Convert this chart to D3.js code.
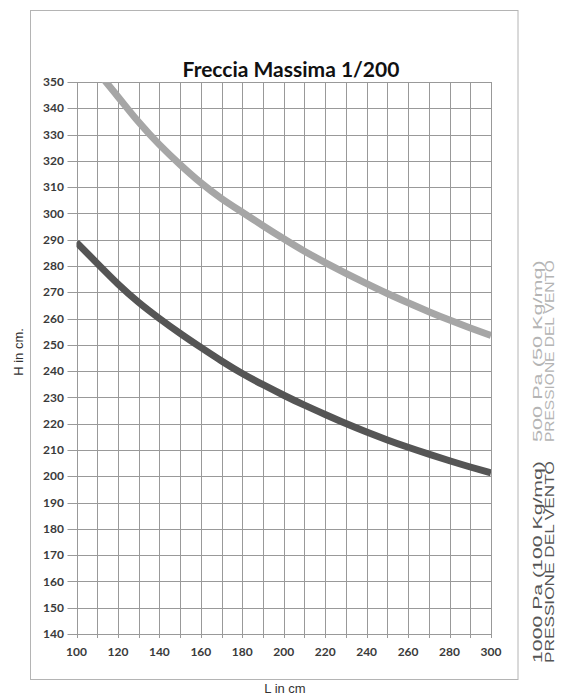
<!DOCTYPE html>
<html>
<head>
<meta charset="utf-8">
<script src="https://cdn.jsdelivr.net/npm/d3@7"></script>
<style>
  body { margin: 0; background: #fff; }
  svg { display: block; }
</style>
</head>
<body>
<div id="chart"></div>
<script>
// Freccia massima 1/200 - height vs length for two wind pressures

// Lengths (L in cm) along the x axis
const lengths = [100, 110, 120, 130, 140, 150, 160, 170, 180, 190, 200,
                 210, 220, 230, 240, 250, 260, 270, 280, 290, 300];

// 1000 Pa (100 Kg/mq) - dark curve
const h1000 = [289, 281, 273, 266, 260, 254.3, 249, 243.8, 239, 234.8, 230.8,
               227, 223.5, 220, 216.8, 213.8, 211, 208.4, 205.9, 203.5, 201.3];

// 500 Pa (50 Kg/mq) - light curve, goes off the top at the start
const h500 = [null, 354, 344.5, 334.5, 326, 318.5, 311.5, 305.5, 300.5, 295.3, 290.3,
              285.5, 281.3, 277.2, 273.3, 269.5, 266, 262.6, 259.4, 256.4, 253.6];

const xTicks = [100, 120, 140, 160, 180, 200, 220, 240, 260, 280, 300];
const yTicks = [140, 150, 160, 170, 180, 190, 200, 210, 220, 230, 240, 250,
                260, 270, 280, 290, 300, 310, 320, 330, 340, 350];

const width = 565;
const height = 695;
const plot = { left: 76.5, right: 491, top: 82, bottom: 634 };

const svg = d3.select('#chart').append('svg')
  .attr('width', width)
  .attr('height', height);

// outer frame
svg.append('rect')
  .attr('x', 30.5).attr('y', 10.5)
  .attr('width', 487.5).attr('height', 669)
  .attr('fill', 'none')
  .attr('stroke', '#b4b4b4');

const x = d3.scaleLinear().domain([100, 300]).range([plot.left, plot.right]);
const y = d3.scaleLinear().domain([140, 350]).range([plot.bottom, plot.top]);

// grid lines
const grid = svg.append('g').attr('stroke', '#999').attr('stroke-width', 1);
grid.selectAll('.vline')
  .data(lengths)
  .enter().append('line')
  .attr('x1', d => Math.round(x(d)) + 0.5)
  .attr('x2', d => Math.round(x(d)) + 0.5)
  .attr('y1', plot.top)
  .attr('y2', plot.bottom + 4);
grid.selectAll('.hline')
  .data(yTicks)
  .enter().append('line')
  .attr('x1', plot.left - 9)
  .attr('x2', plot.right)
  .attr('y1', d => Math.round(y(d)) + 0.5)
  .attr('y2', d => Math.round(y(d)) + 0.5);

// tick labels
const tickFont = 'Lato, "Open Sans", sans-serif';
svg.append('g').selectAll('text')
  .data(yTicks)
  .enter().append('text')
  .attr('x', 64)
  .attr('y', d => y(d))
  .attr('dy', '0.35em')
  .attr('text-anchor', 'end')
  .attr('font-family', tickFont)
  .attr('font-weight', 'bold')
  .attr('font-size', '12px')
  .attr('fill', '#3a3a3a')
  .text(d => d);

svg.append('g').selectAll('text')
  .data(xTicks)
  .enter().append('text')
  .attr('x', d => x(d))
  .attr('y', 656)
  .attr('text-anchor', 'middle')
  .attr('font-family', tickFont)
  .attr('font-weight', 'bold')
  .attr('font-size', '12px')
  .attr('fill', '#3a3a3a')
  .text(d => d);

// curves
svg.append('clipPath').attr('id', 'clip')
  .append('rect')
  .attr('x', plot.left).attr('y', plot.top)
  .attr('width', plot.right - plot.left)
  .attr('height', plot.bottom - plot.top);

const line = d3.line()
  .defined(d => d[1] != null)
  .x(d => x(d[0]))
  .y(d => y(d[1]))
  .curve(d3.curveBasis);

const curves = svg.append('g').attr('clip-path', 'url(#clip)');
curves.append('path')
  .datum(lengths.map((l, i) => [l, h500[i]]))
  .attr('d', line)
  .attr('fill', 'none')
  .attr('stroke', '#a6a6a6')
  .attr('stroke-width', 7);
curves.append('path')
  .datum(lengths.map((l, i) => [l, h1000[i]]))
  .attr('d', line)
  .attr('fill', 'none')
  .attr('stroke', '#555')
  .attr('stroke-width', 7);

// title
svg.append('text')
  .attr('x', 291)
  .attr('y', 77)
  .attr('text-anchor', 'middle')
  .attr('font-family', tickFont)
  .attr('font-weight', 'bold')
  .attr('font-size', '21px')
  .attr('fill', '#111')
  .text('Freccia Massima 1/200');

// axis titles
const labelFont = '"Liberation Sans", Arial, sans-serif';
svg.append('text')
  .attr('transform', 'translate(23, 352) rotate(-90)')
  .attr('text-anchor', 'middle')
  .attr('font-family', labelFont)
  .attr('font-size', '13px')
  .attr('fill', '#333')
  .text('H in cm.');

svg.append('text')
  .attr('x', 285)
  .attr('y', 693)
  .attr('text-anchor', 'middle')
  .attr('font-family', labelFont)
  .attr('font-size', '13px')
  .attr('fill', '#333')
  .text('L in cm');

// pressure labels on the right (glyphs stretched along the text like the original)
const pressure = [
  { lines: ['500 Pa (50 Kg/mq)', 'PRESSIONE DEL VENTO'], bottom: 442, len: 182, color: '#b4b4b4' },
  { lines: ['1000 Pa (100 Kg/mq)', 'PRESSIONE DEL VENTO'], bottom: 663, len: 202, color: '#555' }
];
pressure.forEach(p => {
  p.lines.forEach((t, i) => {
    const txt = svg.append('text')
      .attr('font-family', labelFont)
      .attr('font-size', '13px')
      .attr('fill', p.color)
      .text(t);
    const natural = txt.node().getComputedTextLength();
    const sx = p.len / natural;
    txt.attr('transform',
      `translate(${541.5 + i * 12.5}, ${p.bottom}) rotate(-90) scale(${sx}, 1)`);
  });
});
</script>
</body>
</html>
